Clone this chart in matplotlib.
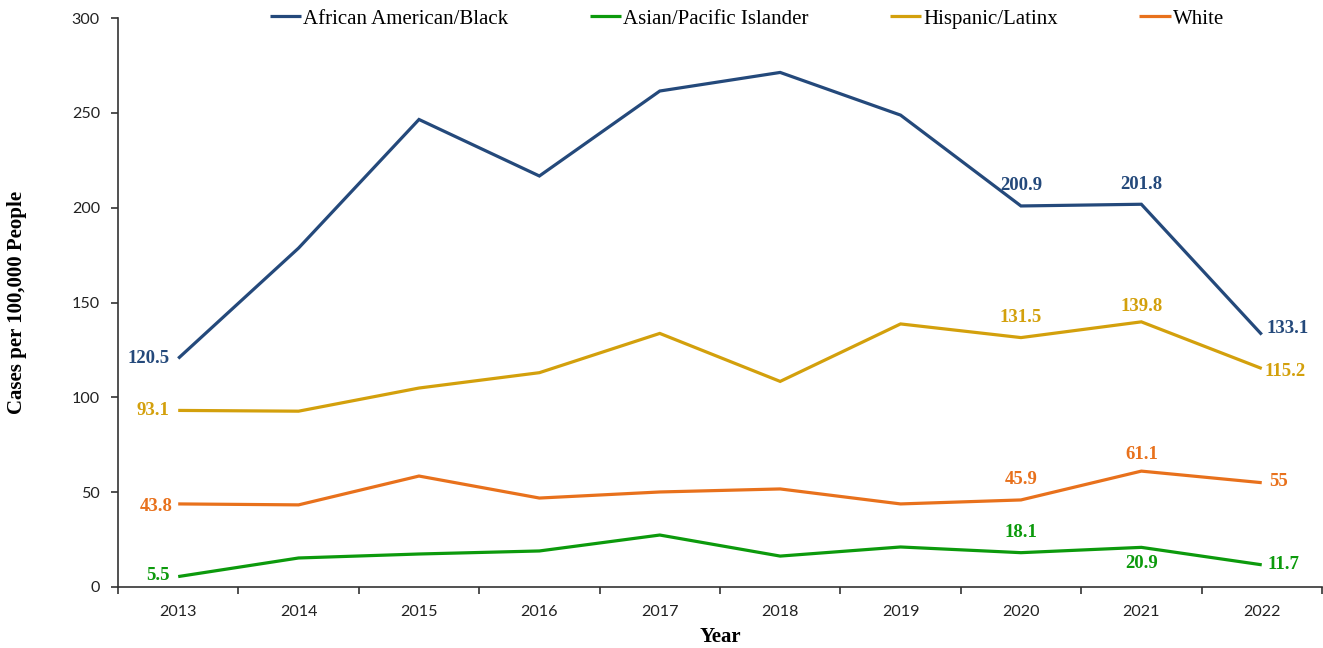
import matplotlib
matplotlib.use("Agg")
import matplotlib.pyplot as plt
import numpy as np

years = ["2013", "2014", "2015", "2016", "2017", "2018", "2019", "2020", "2021", "2022"]
black = [120.5, 178.7, 246.5, 216.7, 261.5, 271.3, 248.8, 200.9, 201.8, 133.1]
asian = [5.5, 15.3, 17.4, 19.0, 27.4, 16.3, 21.1, 18.1, 20.9, 11.7]
hispanic = [93.1, 92.7, 104.9, 113.0, 133.7, 108.4, 138.7, 131.5, 139.8, 115.2]
white = [43.8, 43.3, 58.5, 46.9, 50.1, 51.7, 43.8, 45.9, 61.1, 55]

names = ["African American/Black", "Asian/Pacific Islander", "Hispanic/Latinx", "White"]
colors = ["#24497b", "#0c9a0c", "#d3a00c", "#e8711c"]
series = [black, asian, hispanic, white]

# label indices shown and placement: (index, dx_px, dy_px, ha, va)
label_specs = {
    0: [(0, -9, 0, "right", "center"), (7, 0, 20, "center", "center"), (8, 0, 20, "center", "center"), (9, 5, 6, "left", "center")],
    1: [(0, -9, 1, "right", "center"), (7, 0, 20, "center", "center"), (8, 0, -16, "center", "center"), (9, 6, 0, "left", "center")],
    2: [(0, -9, 0, "right", "center"), (7, 0, 20, "center", "center"), (8, 0, 15, "center", "center"), (9, 3, -3, "left", "center")],
    3: [(0, -6, -3, "right", "center"), (7, 0, 20, "center", "center"), (8, 0, 17, "center", "center"), (9, 7, 1, "left", "center")],
}

fig = plt.figure(figsize=(13.23, 6.48), dpi=100)
ax = fig.add_axes([118/1323, 1-587/648, 1-118/1323-0.0008, (587-18)/648])

x = np.arange(len(years))
serif = "Liberation Serif"
for vals, c, n in zip(series, colors, names):
    ax.plot(x, vals, color=c, lw=2.3, label=n, solid_capstyle="butt", solid_joinstyle="miter")

for si, specs in label_specs.items():
    vals = series[si]
    for (i, dx, dy, ha, va) in specs:
        v = vals[i]
        txt = f"{v:g}"
        ax.annotate(txt, (x[i], v), xytext=(dx*0.72, dy*0.72), textcoords="offset points",
                    ha=ha, va=va, color=colors[si], fontsize=13.5, fontweight="bold",
                    family=serif, annotation_clip=False)

ax.set_xlim(-0.5, len(years)-0.5)
ax.set_ylim(0, 300)
ax.set_yticks(np.arange(0, 301, 50))
ax.set_xticks(x)
ax.set_xticklabels(years)
ax.set_xticks(np.arange(-0.5, len(years), 1), minor=True)
ax.tick_params(axis="x", which="major", length=0, pad=13, labelsize=11.6, labelcolor="#222222")
ax.tick_params(axis="x", which="minor", length=5, width=1.2, color="#333333", direction="out")
ax.tick_params(axis="y", length=5, width=1.2, color="#333333", direction="out", labelsize=11.6, labelcolor="#222222", pad=8)
for lab in ax.get_xticklabels() + ax.get_yticklabels():
    lab.set_family("Lato")
for s in ["top", "right"]:
    ax.spines[s].set_visible(False)
for s in ["left", "bottom"]:
    ax.spines[s].set_color("#333333")
    ax.spines[s].set_linewidth(1.2)

fig.text(17/1323, 1-302/648, "Cases per 100,000 People", rotation=90, ha="center", va="center",
         family=serif, fontweight="bold", fontsize=15)
fig.text(720/1323, 1-637/648, "Year", ha="center", va="center",
         family=serif, fontweight="bold", fontsize=15)

leg = ax.legend(loc="center", bbox_to_anchor=(747/1323, 1-19/648), bbox_transform=fig.transFigure,
                ncol=4, frameon=False, prop={"family": serif, "size": 15},
                handlelength=1.5, handletextpad=0.1, columnspacing=3.9, borderaxespad=0,
                borderpad=0)

fig.savefig("out.png", dpi=100)
